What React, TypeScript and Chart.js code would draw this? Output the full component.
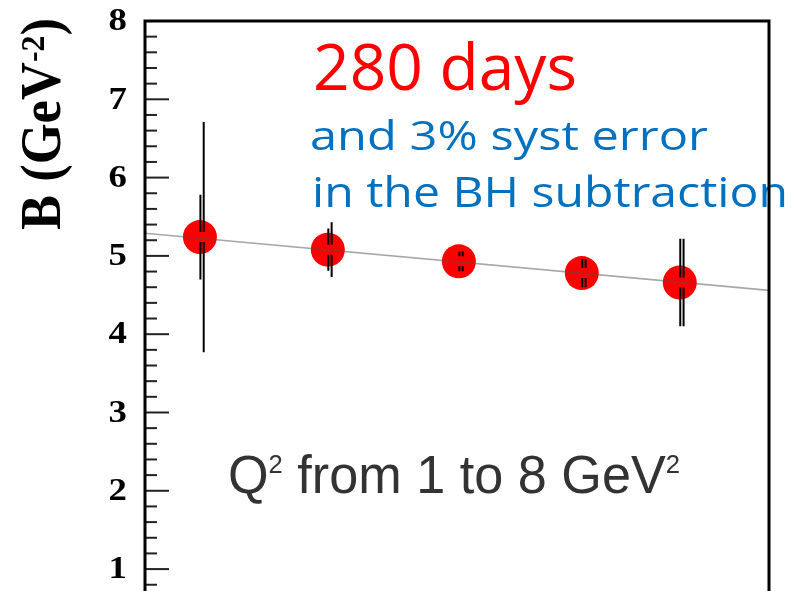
import { useEffect, useRef } from "react";
import { Chart, registerables } from "chart.js";

Chart.register(...registerables);

// Bin positions (arbitrary horizontal variable, axis not labelled) and slope values
const xBins = [0.088, 0.293, 0.503, 0.7, 0.857];
const bValues = [5.24, 5.08, 4.93, 4.78, 4.66];
// Two error estimates per point: left bar (inner) and right bar (outer)
const statErr = [0.54, 0.27, 0.125, 0.18, 0.56];
const totalErr = [1.47, 0.35, 0.125, 0.18, 0.56];
// Straight-line fit across the full range
const fitX = [0, 1];
const fitB = [5.29, 4.56];
// Y axis
const yTicks = [1, 2, 3, 4, 5, 6, 7, 8];
const yTickLabels = ["1", "2", "3", "4", "5", "6", "7", "8"];
const Y_MIN = 0.72;
const Y_MAX = 8;

const SERIF = "'Liberation Serif', 'Times New Roman', serif";
const SANS = "'Liberation Sans', Arial, sans-serif";
const ROUND = "'Open Sans', 'Noto Sans', sans-serif";

type Run = { text: string; font: string; dy?: number };

// Draws a sequence of text runs starting at the current origin, squeezed/stretched to a given width
function drawRuns(ctx: CanvasRenderingContext2D, runs: Run[], width: number) {
  let total = 0;
  const widths = runs.map((r) => {
    ctx.font = r.font;
    const w = ctx.measureText(r.text).width;
    total += w;
    return w;
  });
  ctx.scale(width / total, 1);
  let cx = 0;
  runs.forEach((r, i) => {
    ctx.font = r.font;
    ctx.fillText(r.text, cx, r.dy ?? 0);
    cx += widths[i];
  });
}

function textBlock(
  ctx: CanvasRenderingContext2D,
  runs: Run[],
  x: number,
  baseline: number,
  width: number,
  color: string
) {
  ctx.save();
  ctx.fillStyle = color;
  ctx.textAlign = "left";
  ctx.textBaseline = "alphabetic";
  ctx.translate(x, baseline);
  drawRuns(ctx, runs, width);
  ctx.restore();
}

const ERR_GAP = 5;

const decorPlugin = {
  id: "decor",
  afterDatasetsDraw(chart: any) {
    const { ctx, scales } = chart;
    const xs = scales.x;
    const ys = scales.y;

    // Error bars: two parallel lines, open around the point centre
    ctx.save();
    ctx.strokeStyle = "#000";
    ctx.lineWidth = 2;
    xBins.forEach((xv, i) => {
      const px = xs.getPixelForValue(xv);
      const pc = ys.getPixelForValue(bValues[i]);
      const bars: [number[], number][] = [
        [statErr, 0.5],
        [totalErr, 3.8],
      ];
      bars.forEach(([err, off]) => {
        const top = ys.getPixelForValue(bValues[i] + err[i]);
        const bot = ys.getPixelForValue(bValues[i] - err[i]);
        ctx.beginPath();
        ctx.moveTo(px + off, top);
        ctx.lineTo(px + off, pc - ERR_GAP);
        ctx.moveTo(px + off, pc + ERR_GAP);
        ctx.lineTo(px + off, bot);
        ctx.stroke();
      });
    });
    ctx.restore();

    // Annotations
    textBlock(ctx, [{ text: "280 days", font: `64px ${ROUND}` }], 313, 90, 264, "#ff0000");
    textBlock(ctx, [{ text: "and 3% syst error", font: `41px ${ROUND}` }], 310, 150, 398, "#0070c0");
    textBlock(ctx, [{ text: "in the BH subtraction", font: `42px ${ROUND}` }], 312, 207, 476, "#0070c0");
    textBlock(
      ctx,
      [
        { text: "Q", font: `53px ${SANS}` },
        { text: "2", font: `26px ${SANS}`, dy: -20 },
        { text: " from 1 to 8 GeV", font: `53px ${SANS}` },
        { text: "2", font: `26px ${SANS}`, dy: -20 },
      ],
      228,
      493,
      452,
      "#333333"
    );
  },
  afterDraw(chart: any) {
    const { ctx, chartArea, scales } = chart;
    const ys = scales.y;
    const { left, right, top } = chartArea;
    const bottom = chart.height;

    // Inward ticks on the left axis: majors every 1, minors every 0.2
    ctx.save();
    ctx.strokeStyle = "#222";
    ctx.lineWidth = 2;
    for (let k = 4; k <= 40; k++) {
      const v = k / 5;
      if (v < Y_MIN || v > Y_MAX) continue;
      const py = ys.getPixelForValue(v);
      const len = k % 5 === 0 ? 24 : 12;
      ctx.beginPath();
      ctx.moveTo(left, py);
      ctx.lineTo(left + len, py);
      ctx.stroke();
    }
    ctx.restore();

    // Tick labels at the scale's ticks (slightly widened glyphs)
    ys.ticks.forEach((t: any, i: number) => {
      ctx.save();
      ctx.fillStyle = "#000";
      ctx.font = `bold 32px ${SERIF}`;
      ctx.textAlign = "right";
      ctx.textBaseline = "middle";
      ctx.translate(left - 18, ys.getPixelForValue(t.value) + 1);
      ctx.scale(1.15, 1);
      ctx.fillText(yTickLabels[i] ?? "", 0, 0);
      ctx.restore();
    });

    // Frame
    ctx.save();
    ctx.strokeStyle = "#000";
    ctx.lineWidth = 3;
    ctx.lineJoin = "miter";
    ctx.beginPath();
    ctx.moveTo(left, bottom);
    ctx.lineTo(left, top);
    ctx.lineTo(right, top);
    ctx.lineTo(right, bottom);
    ctx.stroke();
    ctx.restore();

    // Y axis title, rotated, with superscript
    ctx.save();
    ctx.fillStyle = "#000";
    ctx.textAlign = "left";
    ctx.textBaseline = "alphabetic";
    ctx.translate(60, 230);
    ctx.rotate(-Math.PI / 2);
    drawRuns(
      ctx,
      [
        { text: "B (GeV", font: `bold 56px ${SERIF}` },
        { text: "-2", font: `bold 34px ${SERIF}`, dy: -16 },
        { text: ")", font: `bold 56px ${SERIF}` },
      ],
      212
    );
    ctx.restore();
  },
};

export default function App() {
  const canvasRef = useRef<HTMLCanvasElement>(null);

  useEffect(() => {
    const canvas = canvasRef.current;
    if (!canvas) return;
    const chart = new Chart(canvas, {
      type: "scatter",
      data: {
        datasets: [
          {
            type: "line",
            label: "fit",
            data: fitX.map((x, i) => ({ x, y: fitB[i] })),
            borderColor: "rgba(80,80,80,0.5)",
            borderWidth: 1.6,
            pointRadius: 0,
            fill: false,
            order: 0,
          } as any,
          {
            label: "B",
            data: xBins.map((x, i) => ({ x, y: bValues[i] })),
            backgroundColor: "#ff0000",
            borderWidth: 0,
            pointRadius: 17,
            order: 1,
          },
        ],
      },
      options: {
        responsive: false,
        animation: false,
        events: [],
        layout: { autoPadding: false, padding: { left: 0, top: 21, right: 29, bottom: 0 } },
        plugins: {
          legend: { display: false },
          tooltip: { enabled: false },
        },
        scales: {
          x: { type: "linear", min: 0, max: 1, display: false },
          y: {
            type: "linear",
            min: Y_MIN,
            max: Y_MAX,
            afterFit: (s: any) => {
              s.width = 145;
              s.paddingTop = 0;
              s.paddingBottom = 0;
            },
            afterBuildTicks: (s: any) => {
              s.ticks = yTicks.map((v) => ({ value: v }));
            },
            ticks: { display: false },
            grid: { display: false, drawTicks: false },
            border: { display: false },
          },
        },
      },
      plugins: [decorPlugin],
    });
    return () => chart.destroy();
  }, []);

  return (
    <canvas
      ref={canvasRef}
      width={798}
      height={591}
      style={{ position: "absolute", left: 0, top: 0, width: 798, height: 591 }}
    />
  );
}
